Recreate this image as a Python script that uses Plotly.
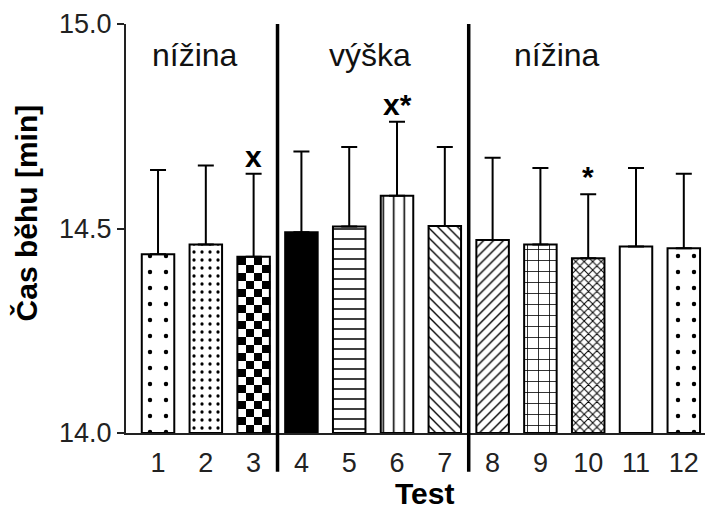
import numpy as np
import plotly.graph_objects as go

tests = [1, 2, 3, 4, 5, 6, 7, 8, 9, 10, 11, 12]
tick_labels = [str(t) for t in tests]
means = [14.437, 14.461, 14.431, 14.491, 14.505, 14.580, 14.506, 14.472, 14.461, 14.427, 14.456, 14.452]
sd_up = [0.206, 0.193, 0.203, 0.197, 0.194, 0.181, 0.193, 0.201, 0.187, 0.157, 0.192, 0.182]
sig_labels = {3: "x", 6: "x*", 10: "*"}
regions = ["nížina", "výška", "nížina"]
region_x = [1.77, 5.43, 9.35]
dividers = [3.5, 7.5]

# pattern per bar (shape, size, solidity, bgcolor)
patterns = [
    (".", 16, 0.06, "white"),
    (".", 8, 0.13, "white"),
    ("", 8, 0.0, "rgba(0,0,0,0)"),   # checkerboard drawn separately
    ("", 8, 0.0, "black"),
    ("-", 10, 0.15, "white"),
    ("|", 10.5, 0.15, "white"),
    ("\\", 7, 0.2, "white"),
    ("/", 7, 0.2, "white"),
    ("+", 11, 0.14, "white"),
    ("x", 6, 0.3, "white"),
    ("", 8, 0.0, "white"),
    (".", 16, 0.06, "white"),
]

FONT = "Liberation Sans, Arial"
BAR_W = 0.68
fig = go.Figure()

# checkerboard fill for bar 3
idx = tests.index(3)
ncols = 4
cell_h = 0.0196
x_edges = np.linspace(tests[idx] - BAR_W / 2, tests[idx] + BAR_W / 2, ncols + 1)
y_edges = list(np.arange(14.0, means[idx], cell_h))
y_edges.append(means[idx])
nrows = len(y_edges) - 1
z = [[(i + j) % 2 for j in range(ncols)] for i in range(nrows)]
fig.add_trace(go.Heatmap(x=x_edges, y=y_edges, z=z, colorscale=[[0, "white"], [1, "black"]],
                         showscale=False, hoverinfo="skip", zmin=0, zmax=1))

for i, t in enumerate(tests):
    shape, size, sol, bg = patterns[i]
    fig.add_trace(go.Bar(
        x=[t], y=[means[i] - 14.0], base=14.0, width=BAR_W,
        marker=dict(color=bg, line=dict(color="black", width=2),
                    pattern=dict(shape=shape, size=size, solidity=sol,
                                 fgcolor="black", bgcolor=bg, fillmode="replace")),
        error_y=dict(type="data", symmetric=False, array=[sd_up[i]], arrayminus=[0],
                     color="black", thickness=2, width=8),
        showlegend=False, hoverinfo="skip",
    ))

for d in dividers:
    fig.add_shape(type="line", xref="x", yref="paper", x0=d, x1=d, y0=-0.095, y1=1.0,
                  line=dict(color="black", width=3.5))

for t, lab in sig_labels.items():
    i = tests.index(t)
    fig.add_annotation(x=t, y=means[i] + sd_up[i], xref="x", yref="y", text="<b>%s</b>" % lab,
                       showarrow=False, yanchor="bottom", yshift=-1,
                       font=dict(family=FONT, size=30, color="black"))

for rx, lab in zip(region_x, regions):
    fig.add_annotation(x=rx, y=14.925, xref="x", yref="y", text=lab, showarrow=False,
                       font=dict(family=FONT, size=32, color="#111"))

fig.add_annotation(x=0.51, y=0.0, xref="paper", yref="paper", yanchor="middle", yshift=-60,
                   text="<b>Test</b>", showarrow=False,
                   font=dict(family=FONT, size=30, color="black"))
fig.add_annotation(x=-0.169, y=0.5, xref="paper", yref="paper", xanchor="center", yanchor="middle",
                   yshift=16, text="<b>Čas běhu [min]</b>", showarrow=False, textangle=-90,
                   font=dict(family=FONT, size=30, color="black"))

# the page has an 8px body margin, so the figure is sized to fit the 713x513 window
fig.update_layout(
    width=705, height=505, margin=dict(l=118, r=1, t=16, b=80, autoexpand=False),
    paper_bgcolor="white", plot_bgcolor="white", barmode="overlay",
    font=dict(family=FONT, size=27, color="#222"),
    xaxis=dict(range=[0.33, 12.59], tickmode="array", tickvals=tests, ticktext=tick_labels,
               automargin=False,
               showline=True, linecolor="#222", linewidth=2, ticks="outside", ticklen=5,
               tickcolor="rgba(0,0,0,0)", showgrid=False, zeroline=False,
               tickfont=dict(size=27, color="#222")),
    yaxis=dict(range=[14.0, 15.0], tickvals=[14.0, 14.5, 15.0], ticktext=["14.0", "14.5", "15.0"],
               automargin=False,
               showline=True, linecolor="#222", linewidth=2, ticks="outside", ticklen=7,
               tickwidth=2, tickcolor="#222", showgrid=False, zeroline=False,
               tickfont=dict(size=27, color="#222")),
)

fig.write_html("out.html")
